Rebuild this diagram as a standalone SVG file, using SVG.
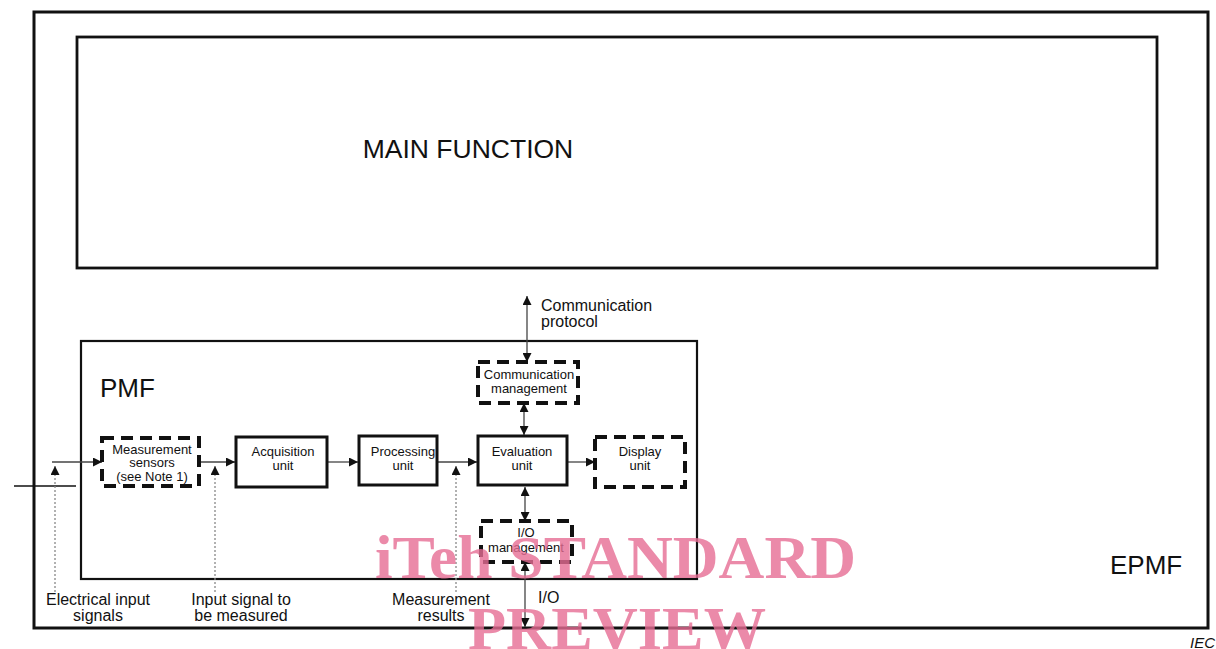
<svg xmlns="http://www.w3.org/2000/svg" width="1216" height="649" viewBox="0 0 1216 649">
<style>
text{font-family:"Liberation Sans",Arial,sans-serif;fill:#111}
.sm{font-size:13px;text-anchor:middle}
.lb{font-size:16px}
.box{fill:#fff;stroke:#111;stroke-width:3}
.dash{fill:#fff;stroke:#111;stroke-width:4;stroke-dasharray:12 7}
.ln{stroke:#444;stroke-width:1.3;fill:none}
.dot{stroke:#888;stroke-width:1.3;stroke-dasharray:2 2;fill:none}
.wm{font-family:"Liberation Serif","Times New Roman",serif;font-weight:bold;font-size:62px;fill:#e66d93;fill-opacity:0.8}
</style>
<defs>
<marker id="ah" viewBox="0 0 10 10" refX="10" refY="5" markerWidth="9" markerHeight="9" markerUnits="userSpaceOnUse" orient="auto-start-reverse">
<path d="M0,0 L10,5 L0,10 Z" fill="#111"/>
</marker>
</defs>
<rect width="1216" height="649" fill="#fff"/>
<g id="epmf">
<rect x="34" y="12" width="1174" height="616" fill="none" stroke="#111" stroke-width="3"/>
<text x="1110" y="574" font-size="26">EPMF</text>
</g>
<g id="main-function">
<rect x="77" y="37" width="1080" height="231" fill="none" stroke="#111" stroke-width="2.8"/>
<text x="468" y="158" font-size="26.5" text-anchor="middle">MAIN FUNCTION</text>
</g>
<g id="pmf">
<rect x="81" y="341" width="616" height="238" fill="none" stroke="#111" stroke-width="2.2"/>
<text x="100" y="397" font-size="26">PMF</text>
</g>
<g id="connectors">
<line x1="14" y1="486" x2="76" y2="486" stroke="#111" stroke-width="1.5"/>
<line class="ln" x1="52" y1="462" x2="102" y2="462" marker-end="url(#ah)"/>
<line class="ln" x1="199" y1="462" x2="235" y2="462" marker-end="url(#ah)"/>
<line class="ln" x1="327" y1="462" x2="358" y2="462" marker-end="url(#ah)"/>
<line class="ln" x1="437" y1="462" x2="477" y2="462" marker-end="url(#ah)"/>
<line class="ln" x1="567" y1="462" x2="595" y2="462" marker-end="url(#ah)"/>
<line class="ln" x1="527" y1="296" x2="527" y2="362" marker-start="url(#ah)" marker-end="url(#ah)"/>
<line class="ln" x1="524" y1="403" x2="524" y2="435" marker-start="url(#ah)" marker-end="url(#ah)"/>
<line class="ln" x1="525" y1="487" x2="525" y2="521" marker-start="url(#ah)" marker-end="url(#ah)"/>
<line class="ln" x1="525" y1="562" x2="525" y2="627" marker-start="url(#ah)" marker-end="url(#ah)"/>
<line class="dot" x1="55" y1="592" x2="55" y2="466" marker-end="url(#ah)"/>
<line class="dot" x1="215" y1="592" x2="215" y2="466" marker-end="url(#ah)"/>
<line class="dot" x1="456" y1="592" x2="456" y2="466" marker-end="url(#ah)"/>
</g>
<g id="measurement-sensors">
<rect class="dash" x="102" y="438" width="97" height="48"/>
<text class="sm" x="152" y="454">Measurement</text>
<text class="sm" x="152" y="467">sensors</text>
<text class="sm" x="152" y="481">(see Note 1)</text>
</g>
<g id="acquisition-unit">
<rect class="box" x="236" y="437" width="91" height="50"/>
<text class="sm" x="283" y="456">Acquisition</text>
<text class="sm" x="283" y="470">unit</text>
</g>
<g id="processing-unit">
<rect class="box" x="359" y="436" width="78" height="49"/>
<text class="sm" x="403" y="456">Processing</text>
<text class="sm" x="403" y="470">unit</text>
</g>
<g id="evaluation-unit">
<rect class="box" x="478" y="436" width="89" height="49"/>
<text class="sm" x="522" y="456">Evaluation</text>
<text class="sm" x="522" y="470">unit</text>
</g>
<g id="display-unit">
<rect class="dash" x="595" y="437" width="90" height="50"/>
<text class="sm" x="640" y="456">Display</text>
<text class="sm" x="640" y="470">unit</text>
</g>
<g id="communication-management">
<rect class="dash" x="478" y="362" width="100" height="41"/>
<text class="sm" x="529" y="379" font-size="12">Communication</text>
<text class="sm" x="529" y="393" font-size="12">management</text>
</g>
<g id="io-management">
<rect class="dash" x="481" y="521" width="91" height="41"/>
<text class="sm" x="526" y="537">I/O</text>
<text class="sm" x="526" y="552">management</text>
</g>
<g id="labels">
<text class="lb" x="541" y="311">Communication</text>
<text class="lb" x="541" y="327">protocol</text>
<text class="lb" x="98" y="605" text-anchor="middle">Electrical input</text>
<text class="lb" x="98" y="621" text-anchor="middle">signals</text>
<text class="lb" x="241" y="605" text-anchor="middle">Input signal to</text>
<text class="lb" x="241" y="621" text-anchor="middle">be measured</text>
<text class="lb" x="441" y="605" text-anchor="middle">Measurement</text>
<text class="lb" x="441" y="621" text-anchor="middle">results</text>
<text class="lb" x="538" y="603">I/O</text>
<text x="1190" y="648" font-size="15" font-style="italic">IEC</text>
</g>
<g id="watermark">
<text class="wm" x="375" y="578" textLength="481" lengthAdjust="spacingAndGlyphs">iTeh STANDARD</text>
<text class="wm" x="468" y="649" textLength="298" lengthAdjust="spacingAndGlyphs">PREVIEW</text>
</g>
</svg>
